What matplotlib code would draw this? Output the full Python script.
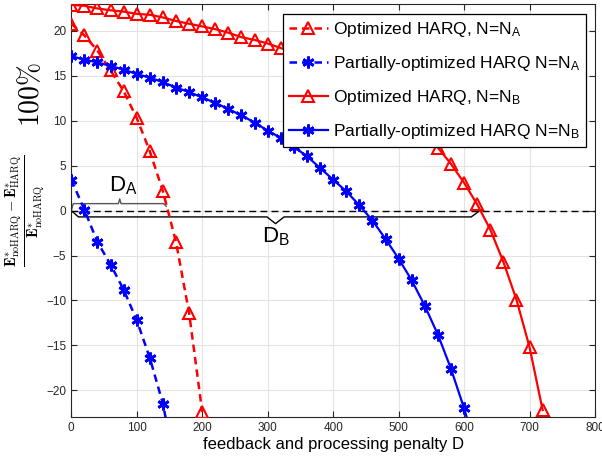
import numpy as np
import matplotlib
matplotlib.use('Agg')
import matplotlib.pyplot as plt

plt.rcParams['font.family'] = ['Liberation Sans', 'DejaVu Sans']
plt.rcParams['mathtext.fontset'] = 'custom'
plt.rcParams['mathtext.rm'] = 'Liberation Sans'
plt.rcParams['mathtext.it'] = 'Liberation Sans:italic'
plt.rcParams['mathtext.bf'] = 'Liberation Sans:bold'

# data
x_a = [0, 20, 40, 60, 80, 100, 120, 140, 160, 180, 200]
opt_a = [20.8, 19.5, 17.8, 15.6, 13.3, 10.3, 6.6, 2.15, -3.5, -11.4, -22.4]
x_pa = [0, 20, 40, 60, 80, 100, 120, 140, 160]
part_a = [3.45, 0.1, -3.5, -6.0, -8.8, -12.2, -16.4, -21.5, -29.0]

x_b = list(range(0, 721, 20))
opt_b = [22.9, 22.8, 22.5, 22.3, 22.15, 21.9, 21.8, 21.5, 21.1, 20.8,
         20.5, 20.2, 19.8, 19.3, 19.0, 18.6, 18.1, 17.6, 17.1, 16.5,
         15.8, 15.0, 14.1, 13.1, 12.0, 10.8, 9.6, 8.4, 7.0, 5.2,
         3.1, 0.7, -2.1, -5.7, -9.9, -15.2, -22.2]
x_pb = list(range(0, 621, 20))
part_b = [17.2, 16.8, 16.5, 16.1, 15.7, 15.2, 14.8, 14.3, 13.7, 13.2,
          12.6, 12.0, 11.3, 10.6, 9.8, 8.9, 8.1, 7.1, 6.05, 4.75,
          3.45, 2.15, 0.6, -1.1, -3.15, -5.35, -7.75, -10.6, -13.8, -17.6,
          -22.0, -27.0]

fig = plt.figure(figsize=(6.02, 4.58), dpi=100)
ax = fig.add_axes([0.1184, 0.0889, 0.87, 0.9024])

ax.axhline(0, color='k', ls=(0, (5, 3)), lw=1.0, zorder=1)

star = (6, 2, 0)
ax.plot(x_a, opt_a, color='red', ls=(0, (3, 2)), lw=1.8, marker='^', ms=8.5,
        mfc='none', mew=1.5, label=r'Optimized HARQ, N=N$_\mathregular{A}$', zorder=3)
ax.plot(x_pa, part_a, color='blue', ls=(0, (3, 2)), lw=1.8, marker=star, ms=8.5,
        mew=2, label=r'Partially-optimized HARQ N=N$_\mathregular{A}$', zorder=3)
ax.plot(x_b, opt_b, color='red', ls='-', lw=1.6, marker='^', ms=8.5,
        mfc='none', mew=1.5, label=r'Optimized HARQ, N=N$_\mathregular{B}$', zorder=3)
ax.plot(x_pb, part_b, color='blue', ls='-', lw=1.6, marker=star, ms=8.5,
        mew=2, label=r'Partially-optimized HARQ N=N$_\mathregular{B}$', zorder=3)

# braces
ax.plot([0, 3, 72, 74, 76, 141, 145], [0, 0.78, 0.78, 1.3, 0.78, 0.78, 0.48],
        color='#555555', lw=1.0, zorder=2)
ax.plot([0, 11, 299, 312, 325, 611, 624], [0, -0.7, -0.7, -1.45, -0.7, -0.7, 0],
        color='k', lw=1.0, zorder=2)
ax.text(79, 2.8, r'D$_\mathregular{A}$', fontsize=16, ha='center', va='center')
ax.text(312, -2.9, r'D$_\mathregular{B}$', fontsize=16, ha='center', va='center')

ax.set_xlim(0, 800)
ax.set_ylim(-23, 23)
ax.set_xticks(range(0, 801, 100))
ax.set_yticks(range(-20, 21, 5))
ax.grid(True, color='#e3e3e3', lw=0.8)
ax.set_axisbelow(True)
ax.tick_params(direction='in', top=True, right=True, labelsize=8.5,
               colors='#262626', length=4)
for s in ax.spines.values():
    s.set_color('#262626')

ax.set_xlabel('feedback and processing penalty D', fontsize=12, labelpad=2)
yl = ax.set_ylabel(r'$\frac{\mathbf{E}^{*}_{\mathrm{noHARQ}}-\mathbf{E}^{*}_{\mathrm{HARQ}}}'
                   r'{\mathbf{E}^{*}_{\mathrm{noHARQ}}}$', fontsize=15)
yl.set_math_fontfamily('cm')
ax.yaxis.set_label_coords(-0.046, 0.5)
ax.text(-0.077, 0.78, r'$100\%$', transform=ax.transAxes, rotation=90,
        fontsize=20, ha='center', va='center', math_fontfamily='cm')

leg = ax.legend(loc='upper right', bbox_to_anchor=(0.983, 0.975), fontsize=12.5,
                fancybox=False, edgecolor='k', framealpha=1, handlelength=2.2,
                borderpad=0.35, labelspacing=0.85, handletextpad=0.3,
                borderaxespad=0)
leg.get_frame().set_linewidth(0.9)

fig.savefig('out.png', dpi=100)
